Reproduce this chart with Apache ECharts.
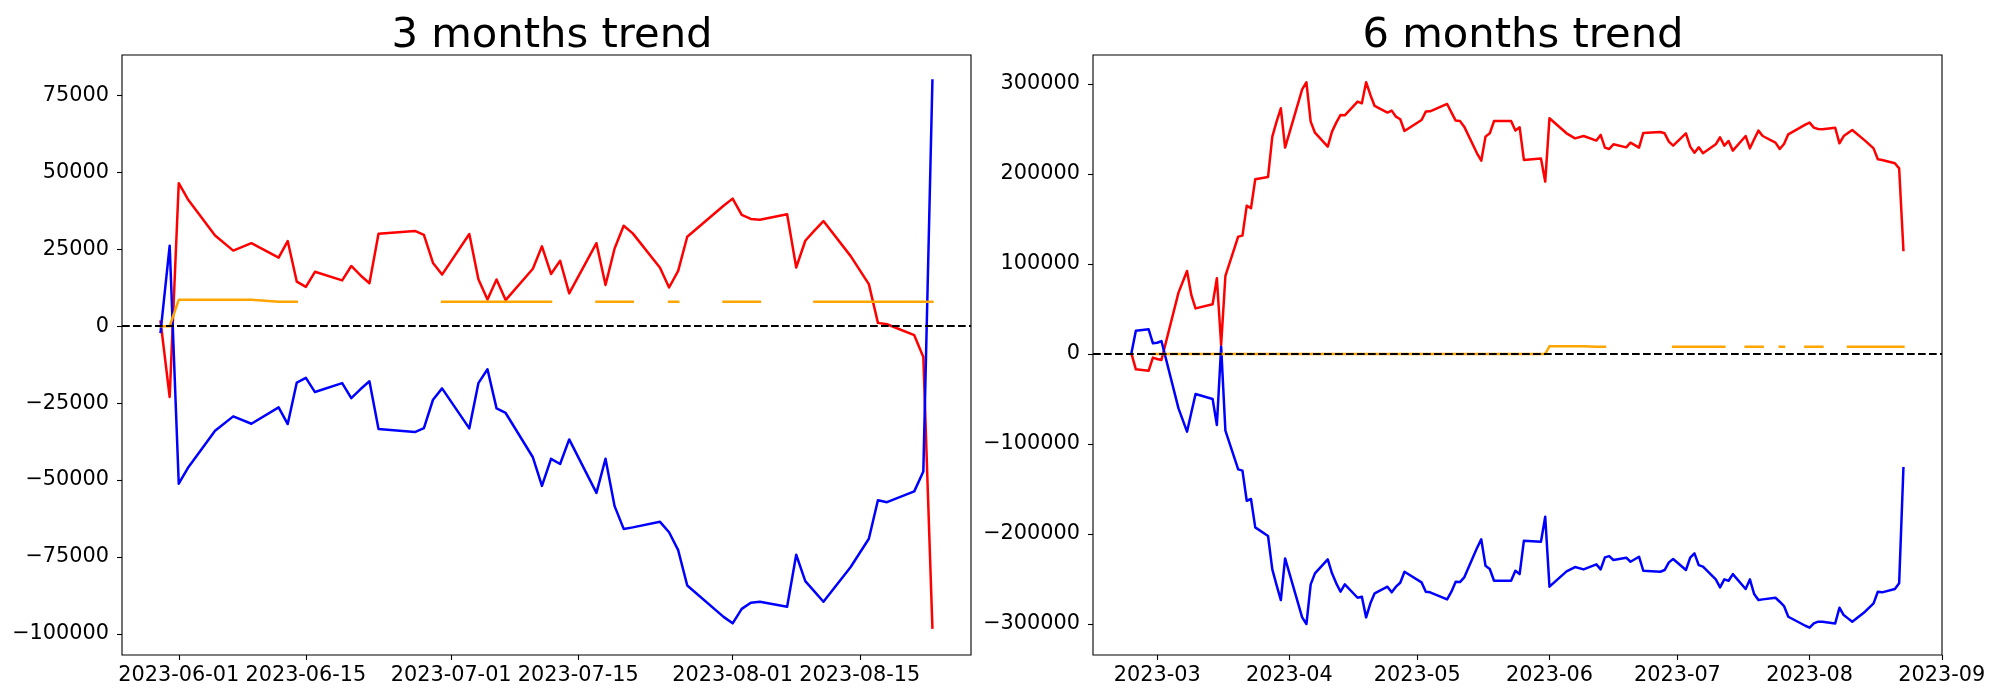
<!DOCTYPE html>
<html>
<head>
<meta charset="utf-8">
<script src="https://cdn.jsdelivr.net/npm/echarts@6/dist/echarts.min.js"></script>
<style>
html,body{margin:0;padding:0;background:#fff;}
#chart{width:2000px;height:700px;}
</style>
</head>
<body>
<div id="chart"></div>
<script>
// ---------- 3 months trend ----------
const leftDates = ['2023-05-30','2023-05-31','2023-06-01','2023-06-02','2023-06-05','2023-06-07','2023-06-09',
  '2023-06-12','2023-06-13','2023-06-14','2023-06-15','2023-06-16',
  '2023-06-19','2023-06-20','2023-06-21','2023-06-22','2023-06-23',
  '2023-06-27','2023-06-28','2023-06-29','2023-06-30',
  '2023-07-03','2023-07-04','2023-07-05','2023-07-06','2023-07-07',
  '2023-07-10','2023-07-11','2023-07-12','2023-07-13','2023-07-14',
  '2023-07-17','2023-07-18','2023-07-19','2023-07-20','2023-07-21',
  '2023-07-24','2023-07-25','2023-07-26','2023-07-27',
  '2023-07-31','2023-08-01','2023-08-02','2023-08-03','2023-08-04',
  '2023-08-07','2023-08-08','2023-08-09','2023-08-10','2023-08-11',
  '2023-08-14','2023-08-16','2023-08-17','2023-08-18',
  '2023-08-21','2023-08-22','2023-08-23'];
const leftRed = [1500,-23000,46500,41300,29500,24600,27000,
  22300,27700,14500,12800,17700,
  14900,19600,16600,14000,30100,
  31000,29700,20600,16800,
  30000,15300,8700,15200,8500,
  18700,26000,17000,21300,10700,
  27000,13400,25300,32700,30200,
  19000,12600,18000,29100,
  39200,41500,36200,34900,34600,
  36400,19100,27800,31100,34200,
  22800,13700,1100,650,
  -2900,-10000,-98000];
const leftBlue = [-1800,26200,-51200,-46100,-34000,-29300,-31700,
  -26400,-31800,-18300,-16800,-21400,
  -18500,-23400,-20500,-17900,-33400,
  -34400,-33100,-23900,-20200,
  -33200,-18500,-14000,-26700,-28200,
  -42600,-51900,-43100,-44800,-36800,
  -54200,-43100,-58500,-65900,-65400,
  -63600,-67000,-72800,-84300,
  -94500,-96600,-91900,-89900,-89600,
  -91200,-74300,-82900,-86200,-89600,
  -78300,-69100,-56600,-57200,
  -53700,-47200,79900];
const leftOrange = [0,0,8600,8600,8600,8600,8600,
  7950,7950,7950,null,null,
  null,null,null,null,null,
  null,null,null,7950,
  7950,7950,7950,7950,7950,
  7950,7950,7950,null,null,
  7950,7950,7950,7950,7950,
  null,7950,7950,null,
  7950,7950,7950,7950,7950,
  null,null,null,7950,7950,
  7950,7950,7950,7950,
  7950,7950,7950];
const leftXTicks = ['2023-06-01','2023-06-15','2023-07-01','2023-07-15','2023-08-01','2023-08-15'];
const leftYTicks = [-100000,-75000,-50000,-25000,0,25000,50000,75000];

// ---------- 6 months trend ----------
const rightDates = ['2023-02-23','2023-02-24','2023-02-27','2023-02-28','2023-03-01','2023-03-02',
  '2023-03-06','2023-03-08','2023-03-09','2023-03-10',
  '2023-03-14','2023-03-15','2023-03-16','2023-03-17',
  '2023-03-20','2023-03-21','2023-03-22','2023-03-23','2023-03-24',
  '2023-03-27','2023-03-28','2023-03-29','2023-03-30','2023-03-31',
  '2023-04-04','2023-04-05','2023-04-06','2023-04-07',
  '2023-04-10','2023-04-11','2023-04-12','2023-04-13','2023-04-14',
  '2023-04-17','2023-04-18','2023-04-19','2023-04-20','2023-04-21',
  '2023-04-24','2023-04-25','2023-04-26','2023-04-27','2023-04-28',
  '2023-05-02','2023-05-03','2023-05-04',
  '2023-05-08','2023-05-09','2023-05-10','2023-05-11','2023-05-12',
  '2023-05-15','2023-05-16','2023-05-17','2023-05-18','2023-05-19',
  '2023-05-23','2023-05-24','2023-05-25','2023-05-26',
  '2023-05-30','2023-05-31','2023-06-01',
  '2023-06-05','2023-06-07','2023-06-09',
  '2023-06-12','2023-06-13','2023-06-14','2023-06-15','2023-06-16',
  '2023-06-19','2023-06-20','2023-06-22','2023-06-23',
  '2023-06-27','2023-06-28','2023-06-29','2023-06-30',
  '2023-07-03','2023-07-04','2023-07-05','2023-07-06','2023-07-07',
  '2023-07-10','2023-07-11','2023-07-12','2023-07-13','2023-07-14',
  '2023-07-17','2023-07-18','2023-07-19','2023-07-20','2023-07-21',
  '2023-07-24','2023-07-25','2023-07-26','2023-07-27',
  '2023-07-31','2023-08-01','2023-08-02','2023-08-03','2023-08-04',
  '2023-08-07','2023-08-08','2023-08-09','2023-08-10','2023-08-11',
  '2023-08-14','2023-08-16','2023-08-17','2023-08-18',
  '2023-08-21','2023-08-22','2023-08-23'];
const rightRed = [0,-17000,-18500,-4000,-5500,-6700,
  68200,92200,65600,50700,
  55200,84100,10000,86700,
  130400,131500,164800,161900,194100,
  196700,241500,258200,273000,229300,
  294100,301900,258200,245900,
  230400,247100,257100,265600,265200,
  280400,278500,301900,287800,275600,
  268200,270400,263700,260800,247800,
  260000,269300,269600,
  277800,268500,259300,258900,252600,
  223000,214800,241500,245200,258900,
  258900,248200,251900,215600,
  217100,191500,261900,
  245200,239600,242200,
  237100,243400,229300,227800,233000,
  229600,234800,229300,245600,
  246700,245200,235900,231500,
  245200,230400,223700,229600,223000,
  233000,240800,231500,236700,225900,
  242200,228500,238500,248200,242200,
  234800,227800,233300,244100,
  254800,257100,251500,250000,249600,
  251500,234100,242200,245600,248900,
  237100,228500,216300,215600,
  211900,206300,115600];
const rightBlue = [2000,25900,27400,11900,12500,14400,
  -60400,-86300,-65200,-44500,
  -50000,-78900,8200,-85200,
  -128200,-129600,-163000,-161100,-192600,
  -202200,-239300,-256700,-273400,-227100,
  -292600,-300000,-255900,-243700,
  -228200,-243700,-254800,-264100,-255900,
  -270800,-269600,-292600,-277000,-265900,
  -258500,-264800,-258500,-254100,-241900,
  -253700,-264100,-264800,
  -272600,-264100,-253000,-253400,-248200,
  -215600,-205900,-235200,-238900,-251900,
  -251900,-240800,-244500,-207400,
  -208500,-180800,-258500,
  -241500,-236700,-239300,
  -233700,-239300,-225900,-224500,-228900,
  -226300,-230800,-225200,-240800,
  -241900,-240000,-231500,-227800,
  -240000,-226300,-221500,-234500,-236300,
  -250400,-259300,-250400,-251900,-244500,
  -261100,-250400,-266700,-273400,-272600,
  -270800,-275200,-280000,-291900,
  -301900,-304100,-299300,-297400,-297400,
  -299300,-281900,-290000,-293700,-297400,
  -286300,-277000,-264100,-264800,
  -261100,-254800,-127000];
const rightOrange = [null,null,null,0,0,0,
  0,0,0,0,
  0,0,0,0,
  0,0,0,0,0,
  0,0,0,0,0,
  0,0,0,0,
  0,0,0,0,0,
  0,0,0,0,0,
  0,0,0,0,0,
  0,0,0,
  0,0,0,0,0,
  0,0,0,0,0,
  0,0,0,0,
  0,0,8600,
  8600,8600,8600,
  7950,7950,7950,null,null,
  null,null,null,null,
  null,null,null,7950,
  7950,7950,7950,7950,7950,
  7950,7950,7950,null,null,
  7950,7950,7950,7950,7950,
  null,7950,7950,null,
  7950,7950,7950,7950,7950,
  null,null,null,7950,7950,
  7950,7950,7950,7950,
  7950,7950,7950];
const rightXTicks = ['2023-03','2023-04','2023-05','2023-06','2023-07','2023-08','2023-09'];
const rightYTicks = [-300000,-200000,-100000,0,100000,200000,300000];

// ---------- helpers ----------
function toTs(s) {
  const p = s.split('-').map(Number);
  return Date.UTC(p[0], p[1] - 1, p.length > 2 ? p[2] : 1);
}
function pad(n) { return n < 10 ? '0' + n : '' + n; }
function fmtDay(v) { const d = new Date(v); return d.getUTCFullYear() + '-' + pad(d.getUTCMonth() + 1) + '-' + pad(d.getUTCDate()); }
function fmtMonth(v) { const d = new Date(v); return d.getUTCFullYear() + '-' + pad(d.getUTCMonth() + 1); }
function fmtY(v) { return v < 0 ? '\u2212' + Math.abs(v) : String(v); }
function pairs(dates, vals) { return dates.map((d, i) => [toTs(d), vals[i] == null ? '-' : vals[i]]); }
function xRange(dates) {
  const a = toTs(dates[0]), b = toTs(dates[dates.length - 1]);
  const m = (b - a) * 0.05;
  return [a - m, b + m];
}

const FONT = 'DejaVu Sans';
const LW = 2.5;
const lr = xRange(leftDates), rr = xRange(rightDates);

function xAxisOf(gi, range, ticks, fmt) {
  const vals = ticks.map(toTs);
  return {
    type: 'value', gridIndex: gi, min: range[0], max: range[1],
    splitLine: { show: false },
    axisLine: { show: false, onZero: false },
    axisTick: { show: true, inside: false, length: 5, customValues: vals, lineStyle: { color: '#000', width: 1.1 } },
    axisLabel: { show: true, customValues: vals, formatter: fmt, color: '#000', fontFamily: FONT, fontSize: 20.8, margin: 10, hideOverlap: false }
  };
}
function yAxisOf(gi, mn, mx, ticks) {
  return {
    type: 'value', gridIndex: gi, min: mn, max: mx,
    splitLine: { show: false },
    axisLine: { show: false, onZero: false },
    axisTick: { show: true, inside: false, length: 5, customValues: ticks, lineStyle: { color: '#000', width: 1.1 } },
    axisLabel: { show: true, customValues: ticks, formatter: fmtY, color: '#000', fontFamily: FONT, fontSize: 20.8, margin: 13 }
  };
}
function lineSeries(gi, data, color, z) {
  return {
    type: 'line', xAxisIndex: gi, yAxisIndex: gi, data: data, showSymbol: false, symbol: 'none',
    connectNulls: false, animation: false, z: z,
    lineStyle: { color: color, width: LW, cap: 'square', join: 'round' }
  };
}
function zeroLine() {
  return {
    silent: true, symbol: ['none', 'none'], animation: false,
    label: { show: false },
    lineStyle: { color: '#000', type: [7.7, 3.3], width: 2.1 },
    data: [{ yAxis: 0 }]
  };
}

const chart = echarts.init(document.getElementById('chart'), null, { renderer: 'canvas', width: 2000, height: 700 });
const lo = lineSeries(0, pairs(leftDates, leftOrange), '#ffa500', 4);
lo.markLine = zeroLine();
const ro = lineSeries(1, pairs(rightDates, rightOrange), '#ffa500', 4);
ro.markLine = zeroLine();

chart.setOption({
  animation: false,
  backgroundColor: '#fff',
  title: [
    { text: '3 months trend', left: 547, top: 10.5, textAlign: 'center', textStyle: { fontFamily: FONT, fontSize: 41.7, fontWeight: 'normal', color: '#000' } },
    { text: '6 months trend', left: 1518, top: 10.5, textAlign: 'center', textStyle: { fontFamily: FONT, fontSize: 41.7, fontWeight: 'normal', color: '#000' } }
  ],
  grid: [
    { left: 122, top: 55, width: 849, height: 600, show: true, borderColor: '#000', borderWidth: 1.1, backgroundColor: 'transparent' },
    { left: 1093, top: 55, width: 849, height: 600, show: true, borderColor: '#000', borderWidth: 1.1, backgroundColor: 'transparent' }
  ],
  xAxis: [xAxisOf(0, lr, leftXTicks, fmtDay), xAxisOf(1, rr, rightXTicks, fmtMonth)],
  yAxis: [yAxisOf(0, -106900, 88200, leftYTicks), yAxisOf(1, -334400, 332200, rightYTicks)],
  series: [
    lineSeries(0, pairs(leftDates, leftRed), '#ff0000', 2),
    lineSeries(0, pairs(leftDates, leftBlue), '#0000ff', 3),
    lo,
    lineSeries(1, pairs(rightDates, rightRed), '#ff0000', 2),
    lineSeries(1, pairs(rightDates, rightBlue), '#0000ff', 3),
    ro
  ]
});
</script>
</body>
</html>
